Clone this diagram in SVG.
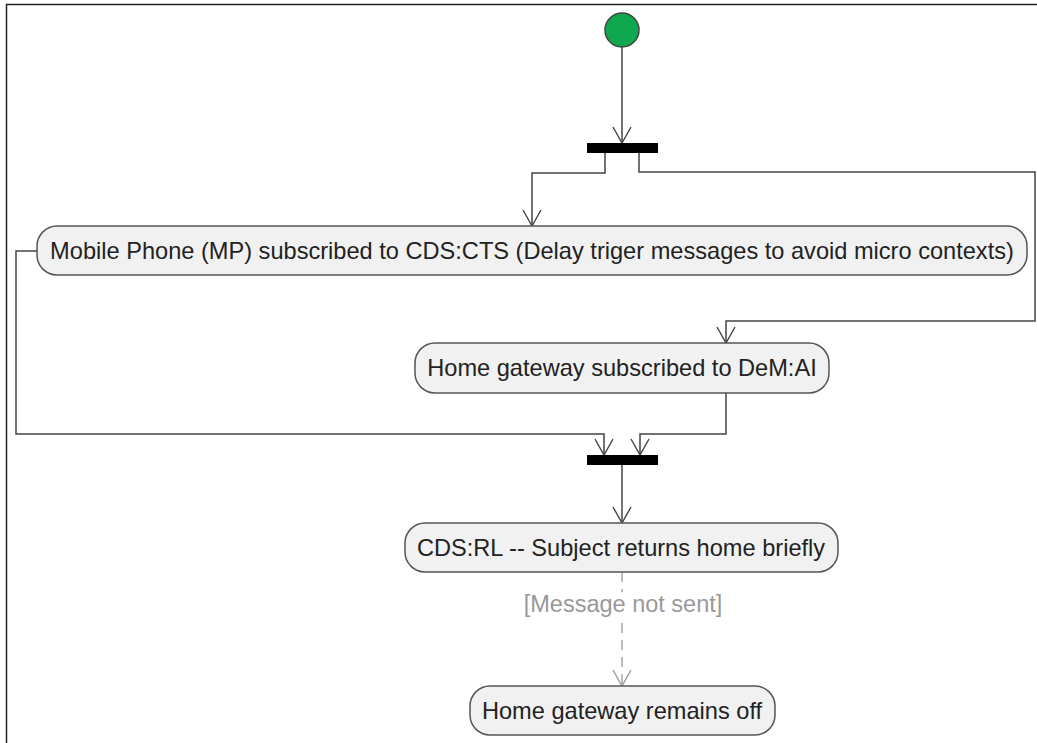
<svg xmlns="http://www.w3.org/2000/svg" width="1037" height="743" viewBox="0 0 1037 743">
<defs>
<style>
.node rect{fill:#f1f1f1;stroke:#555;stroke-width:1.5}
.node text{font-family:"Liberation Sans",Arial,sans-serif;font-size:23.6px;fill:#222;text-anchor:middle}
.conn{fill:none;stroke:#444;stroke-width:1.5}
.dash{fill:none;stroke:#999;stroke-width:1.3;stroke-dasharray:10,7}
.bar{fill:#000}
</style>
<marker id="arr" viewBox="0 0 18 20" refX="17" refY="10" markerWidth="18" markerHeight="20" markerUnits="userSpaceOnUse" orient="auto">
<path d="M1,1 L17,10 L1,19" fill="none" stroke="#444" stroke-width="1.4"/>
</marker>
<marker id="arrg" viewBox="0 0 18 20" refX="17" refY="10" markerWidth="18" markerHeight="20" markerUnits="userSpaceOnUse" orient="auto">
<path d="M1,1 L17,10 L1,19" fill="none" stroke="#999" stroke-width="1.4"/>
</marker>
</defs>
<rect width="1037" height="743" fill="#fff"/>
<path d="M6.5,743 V4.5 H1037" fill="none" stroke="#222" stroke-width="1.5"/>
<g id="connectors">
<path class="conn" d="M622,47 V143" marker-end="url(#arr)"/>
<path class="conn" d="M605,153 V173 H532 V226" marker-end="url(#arr)"/>
<path class="conn" d="M639,153 V172 H1035 V321 H726 V343" marker-end="url(#arr)"/>
<path class="conn" d="M37,251 H16 V434 H604 V455" marker-end="url(#arr)"/>
<path class="conn" d="M726,393 V434 H640 V455" marker-end="url(#arr)"/>
<path class="conn" d="M622,465 V523" marker-end="url(#arr)"/>
<path class="dash" d="M622,572 V686" marker-end="url(#arrg)"/>
<rect x="522" y="592" width="202" height="30" fill="#fff"/>
<text x="623" y="612" font-family="'Liberation Sans',Arial,sans-serif" font-size="23.5" fill="#999" text-anchor="middle">[Message not sent]</text>
</g>
<g id="start"><circle cx="622" cy="30" r="17" fill="#10a84e" stroke="#444" stroke-width="1.5"/></g>
<g id="fork1"><rect class="bar" x="587" y="143" width="71" height="10"/></g>
<g id="fork2"><rect class="bar" x="587" y="455" width="71" height="10"/></g>
<g id="n1" class="node"><rect x="37" y="226" width="990" height="49" rx="20"/><text x="532" y="259">Mobile Phone (MP) subscribed to CDS:CTS (Delay triger messages to avoid micro contexts)</text></g>
<g id="n2" class="node"><rect x="415" y="343" width="414" height="50" rx="20"/><text x="622" y="376">Home gateway subscribed to DeM:AI</text></g>
<g id="n3" class="node"><rect x="405" y="523" width="433" height="49" rx="20"/><text x="621" y="556">CDS:RL -- Subject returns home briefly</text></g>
<g id="n4" class="node"><rect x="470" y="686" width="305" height="49" rx="20"/><text x="622" y="719">Home gateway remains off</text></g>
</svg>
